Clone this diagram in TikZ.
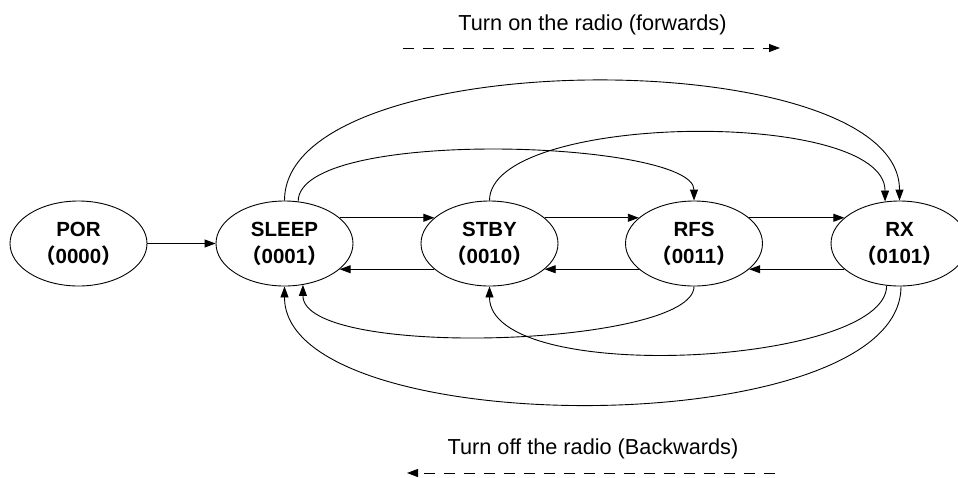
\documentclass[tikz,border=0pt]{standalone}
\usepackage{fontspec}
\setmainfont{Liberation Sans}
\newfontfamily\cjkfont{Noto Sans CJK SC}
\usetikzlibrary{arrows.meta,shapes.geometric}
\begin{document}
\begin{tikzpicture}[x=1pt,y=-1pt,
  state/.style={draw, ellipse, minimum width=137pt, minimum height=85pt, inner sep=0pt, line width=0.9pt},
  nm/.style={anchor=base, font=\fontsize{20.5}{24}\selectfont\bfseries, inner sep=0pt},
  captxt/.style={anchor=base, font=\fontsize{21.7}{26}\selectfont, inner sep=0pt},
  arr/.style={line width=0.9pt, -{Triangle[length=11pt,width=8pt]}},
  dsh/.style={arr, dash pattern=on 11pt off 9pt},
]
\useasboundingbox (0,0) rectangle (958,477);

\node[state] (por) at (78.5,243.5) {};
\node[state] (sleep) at (284.5,243.5) {};
\node[state] (stby) at (489.5,243.5) {};
\node[state] (rfs) at (694,243.5) {};
\node[state] (rx) at (899.5,243.5) {};

\node[nm] (porA) at (78.5,236) {POR};
\node[nm] (porB) at (78.5,263) {{\cjkfont （}0000{\cjkfont ）}};
\node[nm] (sleepA) at (284.5,236) {SLEEP};
\node[nm] (sleepB) at (284.5,263) {{\cjkfont （}0001{\cjkfont ）}};
\node[nm] (stbyA) at (489.5,236) {STBY};
\node[nm] (stbyB) at (489.5,263) {{\cjkfont （}0010{\cjkfont ）}};
\node[nm] (rfsA) at (694,236) {RFS};
\node[nm] (rfsB) at (694,263) {{\cjkfont （}0011{\cjkfont ）}};
\node[nm] (rxA) at (899.5,236) {RX};
\node[nm] (rxB) at (899.5,263) {{\cjkfont （}0101{\cjkfont ）}};

\draw[arr] (por) -- (sleep);
\draw[arr] (sleep.25) -- (stby.155);
\draw[arr] (stby.25) -- (rfs.155);
\draw[arr] (rfs.25) -- (rx.155);
\draw[arr] (rx.205) -- (rfs.335);
\draw[arr] (rfs.205) -- (stby.335);
\draw[arr] (stby.205) -- (sleep.335);

\draw[arr] (sleep.north) .. controls +(0,-159) and +(0,-159) .. (rx.north);
\draw[arr] (sleep.72) .. controls +(0,-75) and +(0,-60) .. (rfs.north);
\draw[arr] (stby.north) .. controls +(0,-88) and +(0,-94) .. (rx.109);
\draw[arr] (rfs.south) .. controls +(0,60) and +(0,75) .. (sleep.294);
\draw[arr] (rx.253) .. controls +(0,80) and +(0,100) .. (stby.south);
\draw[arr] (rx.272) .. controls +(0,157) and +(0,157) .. (sleep.south);

\node[captxt] (fwd) at (592.5,30.5) {Turn on the radio (forwards)};
\coordinate (f1) at (403,48);
\coordinate (f2) at (780,48);
\draw[dsh] (f1) -- (f2);
\node[captxt] (bwd) at (593,454) {Turn off the radio (Backwards)};
\coordinate (b1) at (775,473);
\coordinate (b2) at (407,473);
\draw[dsh] (b1) -- (b2);
\end{tikzpicture}
\end{document}
